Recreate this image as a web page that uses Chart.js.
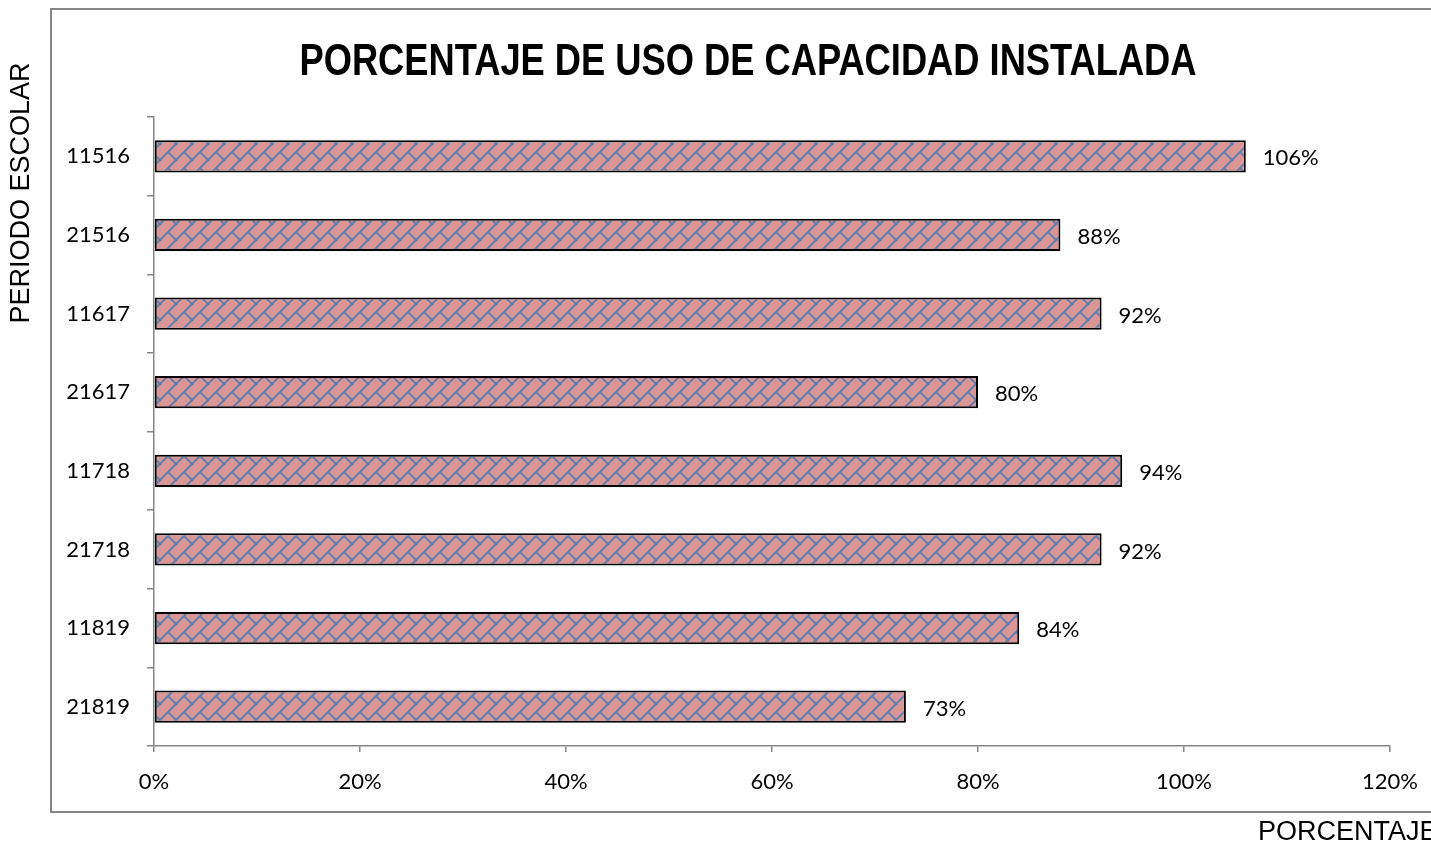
<!DOCTYPE html>
<html lang="es">
<head>
<meta charset="UTF-8">
<title>Porcentaje de uso de capacidad instalada</title>
<script src="https://cdn.jsdelivr.net/npm/chart.js"></script>
<style>
  body { margin: 0; background: #fff; }
  #grafica { display: block; }
</style>
</head>
<body>
<canvas id="grafica" width="1431" height="841"></canvas>
<script>
// Datos por periodo escolar
const periodos = ['11516', '21516', '11617', '21617', '11718', '21718', '11819', '21819'];
const porcentajes = [106, 88, 92, 80, 94, 92, 84, 73];
const marcasX = [0, 20, 40, 60, 80, 100, 120];

// Trama de ladrillo diagonal para las barras
function crearTrama() {
    const t = document.createElement('canvas');
    t.width = 16; t.height = 16;
    const c = t.getContext('2d');
    c.fillStyle = '#d99694';
    c.fillRect(0, 0, 16, 16);
    c.strokeStyle = '#4f7cb6';
    c.lineWidth = 1.7;
    c.beginPath();
    c.moveTo(-2, 18); c.lineTo(18, -2);
    c.moveTo(-2, 2); c.lineTo(2, -2);
    c.moveTo(14, 18); c.lineTo(18, 14);
    c.moveTo(8, 8); c.lineTo(17, 17);
    c.moveTo(-1, -1); c.lineTo(1, 1);
    c.stroke();
    return document.getElementById('grafica').getContext('2d').createPattern(t, 'repeat');
}

const gris = '#868686';

// Marco, título, títulos de ejes y etiquetas de valor
const decoracion = {
    id: 'decoracion',
    beforeDraw(chart) {
        const ctx = chart.ctx;
        ctx.save();
        ctx.fillStyle = '#fff';
        ctx.fillRect(0, 0, chart.width, chart.height);
        ctx.strokeStyle = gris;
        ctx.lineWidth = 2;
        ctx.strokeRect(51, 9, 1440, 803);
        ctx.restore();
    },
    afterDatasetsDraw(chart) {
        const ctx = chart.ctx;
        ctx.save();
        ctx.fillStyle = '#000';
        ctx.font = '22px Lato';
        ctx.textAlign = 'left';
        ctx.textBaseline = 'middle';
        chart.getDatasetMeta(0).data.forEach((barra, i) => {
            ctx.fillText(porcentajes[i] + '%', barra.x + 17, barra.y + 2);
        });
        ctx.restore();
    },
    afterDraw(chart) {
        const ctx = chart.ctx;
        const titulo = 'PORCENTAJE DE USO DE CAPACIDAD INSTALADA';
        ctx.save();
        ctx.fillStyle = '#000';
        ctx.textAlign = 'center';
        ctx.textBaseline = 'alphabetic';
        // título condensado a 897 px de ancho
        ctx.font = 'bold 45px "Liberation Sans"';
        const ancho = ctx.measureText(titulo).width;
        ctx.save();
        ctx.translate(748, 75);
        ctx.scale(897 / ancho, 1);
        ctx.fillText(titulo, 0, 0);
        ctx.restore();

        ctx.font = '27px "Liberation Sans"';
        ctx.textAlign = 'left';
        ctx.fillText('PORCENTAJE', 1258, 840);

        ctx.translate(22, 193);
        ctx.rotate(-Math.PI / 2);
        ctx.textAlign = 'center';
        ctx.textBaseline = 'middle';
        ctx.fillText('PERIODO ESCOLAR', 0, 0);
        ctx.restore();
    }
};

new Chart(document.getElementById('grafica'), {
    type: 'bar',
    data: {
        labels: periodos,
        datasets: [{
            data: porcentajes,
            backgroundColor: crearTrama(),
            borderColor: '#000',
            borderWidth: 2,
            borderSkipped: false,
            categoryPercentage: 1,
            barPercentage: 0.41
        }]
    },
    options: {
        indexAxis: 'y',
        responsive: false,
        animation: false,
        layout: { padding: { left: 54, top: 117, right: 41, bottom: 35 } },
        plugins: {
            legend: { display: false },
            tooltip: { enabled: false }
        },
        scales: {
            x: {
                min: 0,
                max: 120,
                afterBuildTicks: s => { s.ticks = marcasX.map(v => ({ value: v })); },
                afterFit: s => {
                    s.height = 60;
                    s.paddingLeft = 0;
                    s.paddingRight = 0;
                },
                grid: { drawOnChartArea: false, tickLength: 6, color: gris, lineWidth: 1.5 },
                border: { color: gris, width: 1.5 },
                ticks: {
                    padding: 17,
                    color: '#000',
                    font: { family: 'Lato', size: 22 },
                    callback: v => v + '%'
                }
            },
            y: {
                offset: true,
                afterFit: s => { s.width = 100; },
                grid: { offset: true, drawOnChartArea: false, tickLength: 7, color: gris, lineWidth: 1.5 },
                border: { color: gris, width: 1.5 },
                ticks: {
                    padding: 17,
                    color: '#000',
                    font: { family: 'Lato', size: 22 }
                }
            }
        }
    },
    plugins: [decoracion]
});
</script>
</body>
</html>
